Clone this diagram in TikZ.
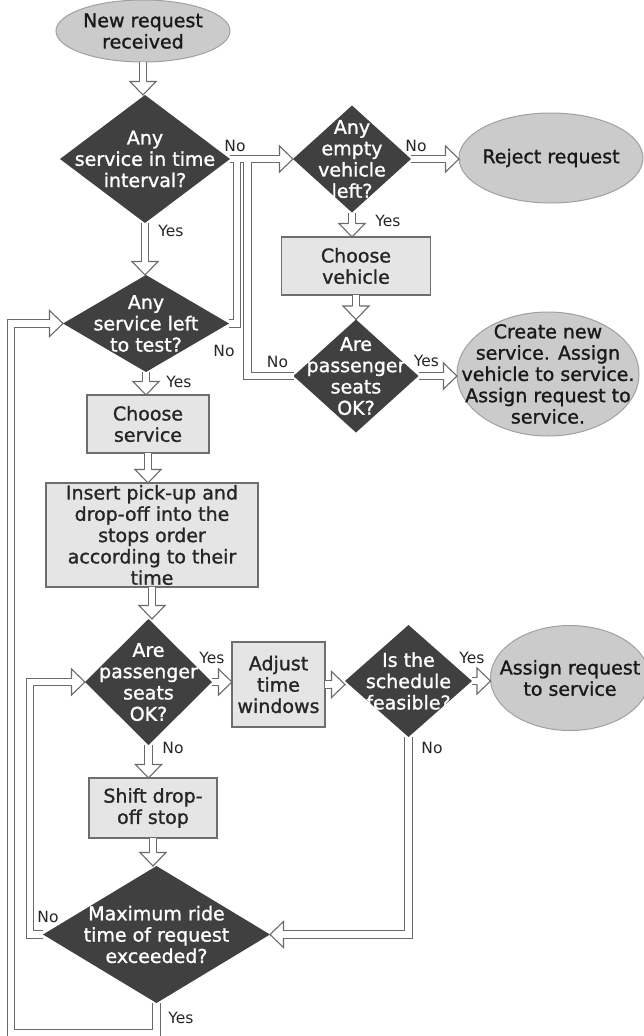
\documentclass[tikz,border=0pt]{standalone}
\usepackage{fontspec}
\setmainfont{DejaVu Sans}
\newfontfamily\shapefam{DejaVu Sans}[FakeBold=1.2]
\usepackage{tikz, xcolor}
\usetikzlibrary{arrows.meta, calc, shapes.geometric}

\definecolor{darkfill}{HTML}{404040}
\definecolor{greyfill}{HTML}{CBCBCB}
\definecolor{greyedge}{HTML}{A0A0A0}
\definecolor{boxfill}{HTML}{E5E5E5}
\definecolor{boxedge}{HTML}{6E6E6E}
\definecolor{flowgrey}{HTML}{6A6A6A}

\newcommand{\shapefont}{\shapefam\fontsize{19}{21.3}\selectfont}
\newcommand{\yesnofont}{\fontsize{15.5}{18}\selectfont}

% hollow block arrow head, open where the double shaft comes in
\pgfdeclarearrow{
  name = Hollow,
  setup code = {
    \pgfarrowssettipend{0pt}
    \pgfarrowssetlineend{-13pt}
    \pgfarrowssetbackend{-13.5pt}
    \pgfarrowssetvisualbackend{-13.5pt}
    \pgfarrowshullpoint{0pt}{0pt}
    \pgfarrowsupperhullpoint{-13.5pt}{13pt}
  },
  drawing code = {
    \pgfsetdash{}{0pt}
    \pgfsetlinewidth{1.1pt}
    \pgfsetmiterjoin
    \pgfpathmoveto{\pgfqpoint{-13.5pt}{13pt}}
    \pgfpathlineto{\pgfqpoint{0pt}{0pt}}
    \pgfpathlineto{\pgfqpoint{-13.5pt}{-13pt}}
    \pgfpathclose
    \pgfsetfillcolor{white}
    \pgfusepathqfill
    \pgfpathmoveto{\pgfqpoint{-13.5pt}{3.3pt}}
    \pgfpathlineto{\pgfqpoint{-13.5pt}{13pt}}
    \pgfpathlineto{\pgfqpoint{0pt}{0pt}}
    \pgfpathlineto{\pgfqpoint{-13.5pt}{-13pt}}
    \pgfpathlineto{\pgfqpoint{-13.5pt}{-3.3pt}}
    \pgfsetstrokecolor{flowgrey}
    \pgfusepathqstroke
  }
}

\begin{document}
\begin{tikzpicture}[
  x=1pt, y=-1pt,
  decision/.style={
    % The shape:
    diamond,
    % The filling:
    fill=darkfill,
    % Font
    text=white, font=\shapefont, align=center,
    % size comes from minimum width/height only
    inner sep=-30pt, outer sep=0pt
  },
  process/.style={
    rectangle,
    draw=boxedge, line width=1.2pt,
    fill=boxfill,
    text=black!85, font=\shapefont, align=center,
    inner sep=1pt, outer sep=0pt
  },
  terminal/.style={
    ellipse,
    draw=greyedge, line width=1pt,
    fill=greyfill,
    text=black!90, font=\shapefont, align=center,
    inner sep=-40pt, outer sep=0pt
  },
  flow/.style={
    % double grey line, white inside
    draw=flowgrey, line width=1.1pt,
    double=white, double distance=6.6pt,
    -{Hollow}
  },
  yesno/.style={font=\yesnofont, text=black!85, inner sep=0pt}
  ]

  \useasboundingbox (0,0) rectangle (643,1036);

  % main column
  \node (start)    [terminal, minimum width=174pt, minimum height=62pt]  at (143, 31)    {New request\\received};
  \node (d1)       [decision, minimum width=170pt, minimum height=128pt] at (145, 159)   {Any\\service in time\\interval?};
  \node (d3)       [decision, minimum width=166pt, minimum height=97pt]  at (146, 323.5) {Any\\service left\\to test?};
  \node (service)  [process,  minimum width=122pt, minimum height=58pt]  at (148, 424)   {Choose\\service};
  \node (insert)   [process,  minimum width=212pt, minimum height=104pt] at (152, 535)   {Insert pick-up and\\drop-off into the\\stops order\\according to their\\time};
  \node (pass2)    [decision, minimum width=127pt, minimum height=126pt] at (148.5, 682) {Are\\passenger\\seats\\OK?};
  \node (shift)    [process,  minimum width=128pt, minimum height=60pt]  at (153, 808)   {Shift drop-\\off stop};
  \node (maxride)  [decision, minimum width=227pt, minimum height=137pt] at (156.5, 934.5) {Maximum ride\\time of request\\exceeded?};

  % new vehicle branch
  \node (empty)    [decision, minimum width=118pt, minimum height=107pt] at (352, 159)   {Any\\empty\\vehicle\\left?};
  \node (reject)   [terminal, minimum width=184pt, minimum height=90pt]  at (551, 158)   {Reject request};
  \node (vehicle)  [process,  minimum width=149pt, minimum height=58pt]  at (356, 266)   {Choose\\vehicle};
  \node (pass1)    [decision, minimum width=125pt, minimum height=113pt] at (356, 376)   {Are\\passenger\\seats\\OK?};
  \node (create)   [terminal, minimum width=182pt, minimum height=124pt] at (548, 374)   {Create new\\service. Assign\\vehicle to service.\\Assign request to\\service.};

  % schedule row
  \node (adjust)   [process,  minimum width=93pt,  minimum height=85pt]  at (278.5, 684.5) {Adjust\\time\\windows};
  \node (feasible) [decision, minimum width=127pt, minimum height=112pt] at (408.5, 681) {Is the\\schedule\\feasible?};
  \node (assign)   [terminal, minimum width=159pt, minimum height=105pt] at (570, 678)   {Assign request\\to service};

  % straight arrows down the column
  \draw [flow] (start.south) -- (start.south |- d1.north);
  \draw [flow] (d1.south) -- (d1.south |- d3.north);
  \draw [flow] (d3.south) -- (d3.south |- service.north);
  \draw [flow] (service.south) -- (service.south |- insert.north);
  \draw [flow] (insert.south) -- (insert.south |- pass2.north);
  \draw [flow] (pass2.south) -- (pass2.south |- shift.north);
  \draw [flow] (shift.south) -- (shift.south |- maxride.north);

  \draw [flow] (empty.east) -- (empty.east -| reject.west);
  \draw [flow] (empty.south) -- (empty.south |- vehicle.north);
  \draw [flow] (vehicle.south) -- (vehicle.south |- pass1.north);
  \draw [flow] (pass1.east) -- (pass1.east -| create.west);

  \draw [flow] (pass2.east) -- (pass2.east -| adjust.west);
  \draw [flow] (adjust.east) -- (adjust.east -| feasible.west);
  \draw [flow] (feasible.east) -- (feasible.east -| assign.west);

  % the three "No" lines that share one head
  \draw [flow] (pass1.west) -- ++(-46,0) |- ($(empty.west) + (-13.5,0)$)
               (d3.east) -- ++(8,0) |- ($(empty.west) + (-13.5,0)$)
               (d1.east) -- (empty.west);

  % loops back
  \draw [flow] (feasible.south) |- (maxride.east);
  \draw [flow] (maxride.west) -- ++(-13,0) |- (pass2.west);
  \draw [flow] (maxride.south) -- ++(0,30) -| ($(d3.west) + (-52,0)$) -- (d3.west);

  % Yes / No labels
  \node (no1)  [yesno] at ($(d1.east) + (5,-13)$)          {No};
  \node (yes1) [yesno] at ($(d1.south) + (26,8)$)          {Yes};
  \node (no2)  [yesno] at ($(empty.east) + (5,-13)$)       {No};
  \node (yes2) [yesno] at ($(empty.south) + (36,8)$)       {Yes};
  \node (no3)  [yesno] at ($(d3.east) + (-5,27.5)$)        {No};
  \node (yes3) [yesno] at ($(d3.south) + (33,10)$)         {Yes};
  \node (no4)  [yesno] at ($(pass1.west) + (-16,-14)$)     {No};
  \node (yes4) [yesno] at ($(pass1.east) + (8,-15)$)       {Yes};
  \node (yes5) [yesno] at ($(pass2.east) + (0,-24)$)       {Yes};
  \node (yes6) [yesno] at ($(feasible.east) + (0,-23)$)    {Yes};
  \node (no5)  [yesno] at ($(pass2.south) + (24.5,3)$)     {No};
  \node (no6)  [yesno] at ($(feasible.south) + (23.5,11)$) {No};
  \node (no7)  [yesno] at ($(maxride.west) + (5,-17.5)$)   {No};
  \node (yes7) [yesno] at ($(maxride.south) + (24.5,15)$)  {Yes};

\end{tikzpicture}
\end{document}
